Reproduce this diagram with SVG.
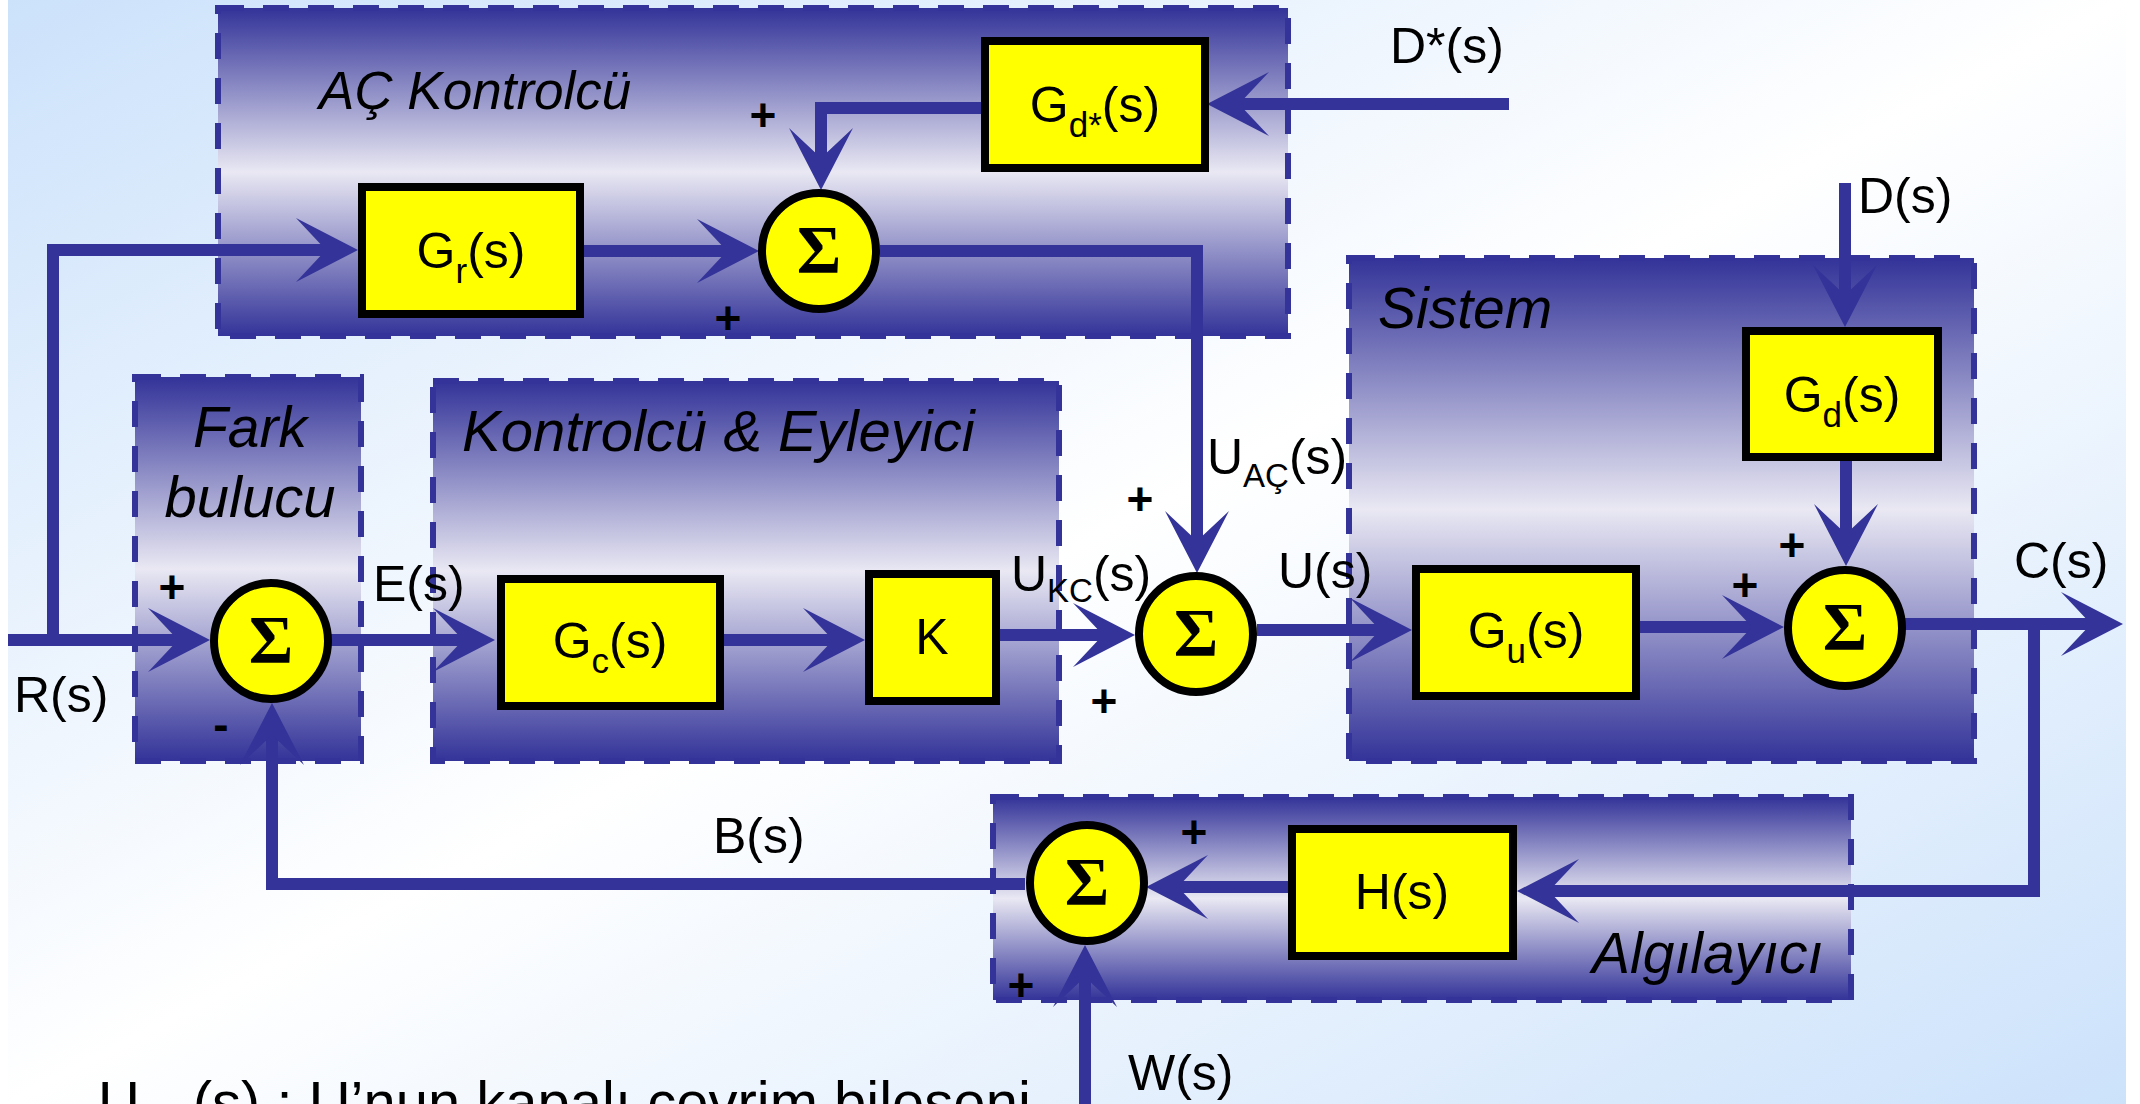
<svg xmlns="http://www.w3.org/2000/svg" width="2140" height="1104" viewBox="0 0 2140 1104">
<defs>
<linearGradient id="bg" x1="0" y1="0" x2="1" y2="1">
<stop offset="0" stop-color="#cce2fb"/>
<stop offset="0.5" stop-color="#ffffff"/>
<stop offset="1" stop-color="#cce2fb"/>
</linearGradient>
<linearGradient id="grp" x1="0" y1="0" x2="0" y2="1">
<stop offset="0" stop-color="#333399"/>
<stop offset="0.5" stop-color="#e9e8f3"/>
<stop offset="1" stop-color="#333399"/>
</linearGradient>
<marker id="ah" viewBox="0 -33 64 66" refX="32" refY="0" markerWidth="64" markerHeight="66" markerUnits="userSpaceOnUse" orient="auto">
<path d="M0,-32 L62,0 L0,32 L30,0 Z" fill="#333399"/>
</marker>
<style>
.grp{fill:url(#grp);stroke:#333399;stroke-width:6;stroke-dasharray:26 19}
.blk{fill:#ffff00;stroke:#000;stroke-width:8}
.sum{fill:#ffff00;stroke:#000;stroke-width:8}
.sig{font-family:"Liberation Serif","Times New Roman",serif;font-weight:bold;font-size:68px;text-anchor:middle;fill:#000}
.lbl{font-family:"Liberation Sans",Arial,sans-serif;font-size:50px;fill:#000}
.blbl{font-family:"Liberation Sans",Arial,sans-serif;font-size:50px;fill:#000;text-anchor:middle}
.sub{font-size:35px}
.ttl{font-family:"Liberation Sans",Arial,sans-serif;font-style:italic;fill:#000}
.sgn{font-family:"Liberation Sans",Arial,sans-serif;font-weight:bold;font-size:46px;text-anchor:middle;fill:#000}
.con{fill:none;stroke:#333399;stroke-width:12;stroke-linejoin:miter;stroke-linecap:butt}
.arr{marker-end:url(#ah)}
</style>
</defs>
<rect x="0" y="0" width="2140" height="1104" fill="#ffffff"/>
<rect x="8" y="0" width="2118" height="1104" fill="url(#bg)"/>

<g id="groups">
<g id="grp-ac"><rect class="grp" x="218" y="8" width="1070" height="328"/>
<text class="ttl" x="319" y="109" style="font-size:53px">AÇ Kontrolcü</text></g>
<g id="grp-fark"><rect class="grp" x="135" y="377" width="226" height="384"/>
<text class="ttl" x="250" y="447" style="font-size:57px;text-anchor:middle">Fark</text>
<text class="ttl" x="250" y="517" style="font-size:58px;text-anchor:middle">bulucu</text></g>
<g id="grp-ke"><rect class="grp" x="433" y="381" width="626" height="380"/>
<text class="ttl" x="462" y="451" style="font-size:58px">Kontrolcü &amp; Eyleyici</text></g>
<g id="grp-sistem"><rect class="grp" x="1349" y="258" width="625" height="503"/>
<text class="ttl" x="1378" y="328" style="font-size:57px">Sistem</text></g>
<g id="grp-alg"><rect class="grp" x="993" y="797" width="858" height="203"/>
<text class="ttl" x="1592" y="973" style="font-size:57px">Algılayıcı</text></g>
</g>

<g id="connectors">
<path class="con arr" d="M8,640 H180"/>
<path class="con arr" d="M53,640 V250 H328"/>
<path class="con arr" d="M584,251 H729"/>
<path class="con arr" d="M981,108 H821 V160"/>
<path class="con arr" d="M1509,104 H1237"/>
<path class="con arr" d="M880,251 H1197 V543"/>
<path class="con arr" d="M331,640 H465"/>
<path class="con arr" d="M724,640 H835"/>
<path class="con arr" d="M1000,635 H1105"/>
<path class="con arr" d="M1257,630 H1382"/>
<path class="con arr" d="M1640,627 H1754"/>
<path class="con arr" d="M1845,183 V297"/>
<path class="con arr" d="M1846,461 V536"/>
<path class="con arr" d="M1905,624 H2093"/>
<path class="con arr" d="M2034,618 V891 H1547"/>
<path class="con arr" d="M1288,887 H1176"/>
<path class="con arr" d="M1025,884 H272 V733"/>
<path class="con arr" d="M1085,1104 V975"/>
</g>

<g id="gr"><rect class="blk" x="362" y="187" width="218" height="127"/>
<text class="blbl" x="471" y="268">G<tspan class="sub" dy="15">r</tspan><tspan dy="-15">(s)</tspan></text></g>
<g id="gdstar"><rect class="blk" x="985" y="41" width="220" height="127"/>
<text class="blbl" x="1095" y="122">G<tspan class="sub" dy="15">d*</tspan><tspan dy="-15">(s)</tspan></text></g>
<g id="gc"><rect class="blk" x="501" y="579" width="219" height="127"/>
<text class="blbl" x="610" y="658">G<tspan class="sub" dy="15">c</tspan><tspan dy="-15">(s)</tspan></text></g>
<g id="k"><rect class="blk" x="869" y="574" width="127" height="127"/>
<text class="blbl" x="932" y="654">K</text></g>
<g id="gu"><rect class="blk" x="1416" y="569" width="220" height="127"/>
<text class="blbl" x="1526" y="648">G<tspan class="sub" dy="15">u</tspan><tspan dy="-15">(s)</tspan></text></g>
<g id="gd"><rect class="blk" x="1746" y="331" width="192" height="126"/>
<text class="blbl" x="1842" y="412">G<tspan class="sub" dy="15">d</tspan><tspan dy="-15">(s)</tspan></text></g>
<g id="h"><rect class="blk" x="1292" y="829" width="221" height="127"/>
<text class="blbl" x="1402" y="909">H(s)</text></g>

<g id="sum-ac"><ellipse class="sum" cx="819" cy="251" rx="57" ry="58"/><text class="sig" x="819" y="272">Σ</text></g>
<g id="sum-fark"><ellipse class="sum" cx="271" cy="641" rx="57" ry="58"/><text class="sig" x="271" y="662">Σ</text></g>
<g id="sum-u"><ellipse class="sum" cx="1196" cy="634" rx="57" ry="58"/><text class="sig" x="1196" y="655">Σ</text></g>
<g id="sum-c"><ellipse class="sum" cx="1845" cy="628" rx="57" ry="58"/><text class="sig" x="1845" y="649">Σ</text></g>
<g id="sum-b"><ellipse class="sum" cx="1087" cy="883" rx="57" ry="58"/><text class="sig" x="1087" y="904">Σ</text></g>

<g id="signs">
<text class="sgn" x="763" y="131">+</text>
<text class="sgn" x="728" y="334">+</text>
<text class="sgn" x="172" y="603">+</text>
<text class="sgn" x="221" y="740">-</text>
<text class="sgn" x="1140" y="515">+</text>
<text class="sgn" x="1104" y="717">+</text>
<text class="sgn" x="1792" y="561">+</text>
<text class="sgn" x="1745" y="601">+</text>
<text class="sgn" x="1194" y="848">+</text>
<text class="sgn" x="1021" y="1001">+</text>
</g>

<g id="labels">
<text class="lbl" x="14" y="712">R(s)</text>
<text class="lbl" x="373" y="601">E(s)</text>
<text class="lbl" x="1011" y="591">U<tspan font-size="33" dy="11">KC</tspan><tspan dy="-11">(s)</tspan></text>
<text class="lbl" x="1278" y="588">U(s)</text>
<text class="lbl" x="1207" y="474">U<tspan font-size="33" dy="13">AÇ</tspan><tspan dy="-13">(s)</tspan></text>
<text class="lbl" x="2014" y="578">C(s)</text>
<text class="lbl" x="1858" y="213">D(s)</text>
<text class="lbl" x="1390" y="63">D*(s)</text>
<text class="lbl" x="713" y="853">B(s)</text>
<text class="lbl" x="1128" y="1090">W(s)</text>
<text class="lbl" x="98" y="1122" style="font-size:58px">U<tspan style="font-size:38px" dy="14">KC</tspan><tspan dy="-14">(s) : U’nun kapalı çevrim bileşeni</tspan></text>
</g>
</svg>
